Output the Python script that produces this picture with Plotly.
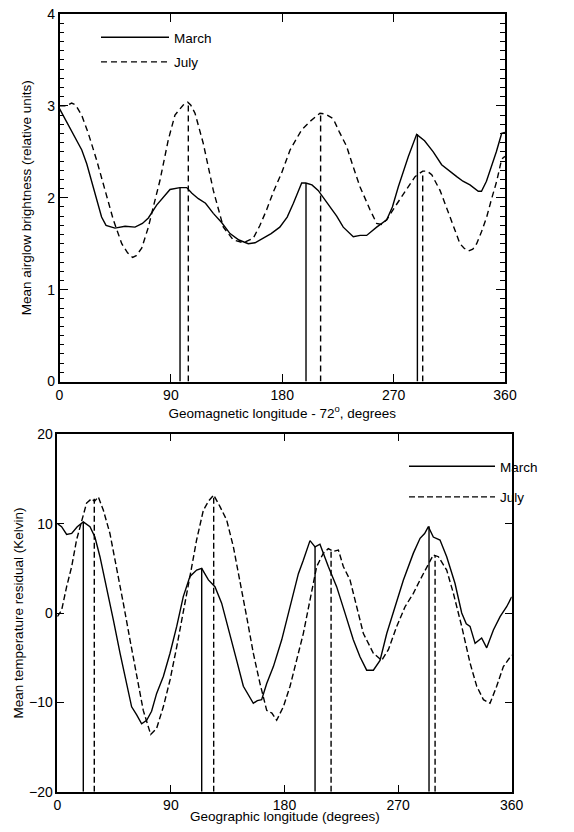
import plotly.graph_objects as go

# ---------------- Top panel data (airglow brightness) ----------------
top_march_lon = [0, 6, 12.5, 18, 22, 27.3, 34, 37.6, 44.8, 53, 61, 67, 71.8, 78.5, 84, 89.3, 97.3,
                 102.8, 107, 112.2, 118, 124.3, 131, 137.8, 145, 152.6, 158, 164.7, 171, 178, 184,
                 189, 195.7, 199, 204, 209, 214, 218.6, 224, 229.3, 237.4, 243, 248.2, 256.3, 264.4,
                 269, 273.8, 281.9, 288.6, 295, 302, 308.8, 315, 321, 326, 331.7, 338.4, 341, 345,
                 349.2, 353, 357.3, 360]
top_march_val = [2.97, 2.82, 2.66, 2.52, 2.37, 2.12, 1.79, 1.70, 1.67, 1.69, 1.68, 1.72, 1.78, 1.92,
                 2.01, 2.09, 2.11, 2.11, 2.05, 1.99, 1.94, 1.83, 1.73, 1.61, 1.54, 1.50, 1.51, 1.56,
                 1.61, 1.68, 1.79, 1.94, 2.16, 2.16, 2.14, 2.08, 1.99, 1.90, 1.80, 1.68, 1.575, 1.59,
                 1.59, 1.68, 1.76, 1.90, 2.12, 2.45, 2.69, 2.62, 2.50, 2.36, 2.29, 2.23, 2.18, 2.14,
                 2.07, 2.07, 2.18, 2.34, 2.50, 2.70, 2.71]

top_july_lon = [0, 5.5, 9.8, 13, 17.9, 23.3, 30, 36.8, 43.5, 50.3, 55, 59.1, 62, 66.4, 71.8, 75.8,
                81.2, 87.9, 93.3, 100, 103.6, 106, 109.5, 116.2, 124.3, 132.4, 140.5, 148.5, 156.6,
                162, 167.4, 173, 179.5, 186.3, 195.7, 202.4, 210.5, 215, 221.2, 226, 232, 237,
                242.8, 250.9, 256.3, 260, 264.4, 271, 279.2, 287.3, 293.5, 297, 300.8, 307.5, 315.6,
                323.6, 327, 330.4, 334, 337.1, 341, 345.2, 349, 353.3, 357.3, 360]
top_july_val = [3.00, 3.00, 3.03, 3.01, 2.90, 2.70, 2.41, 2.08, 1.76, 1.50, 1.40, 1.35, 1.37, 1.45,
                1.68, 1.90, 2.19, 2.63, 2.90, 3.01, 3.04, 3.01, 2.92, 2.59, 2.08, 1.68, 1.54, 1.51,
                1.56, 1.70, 1.87, 2.07, 2.27, 2.52, 2.74, 2.83, 2.92, 2.91, 2.86, 2.72, 2.56, 2.35,
                2.12, 1.87, 1.72, 1.71, 1.76, 1.90, 2.07, 2.23, 2.29, 2.29, 2.25, 2.08, 1.79, 1.50,
                1.45, 1.42, 1.44, 1.50, 1.63, 1.79, 1.98, 2.18, 2.42, 2.45]

# peak markers (vertical lines) top panel
top_march_peak_lon = [97.4, 199.2, 289.2]
top_march_peak_val = [2.11, 2.16, 2.69]
top_july_peak_lon = [104.1, 211.0, 293.5]
top_july_peak_val = [3.04, 2.92, 2.29]

# ---------------- Bottom panel data (temperature residual) ----------------
bot_march_lon = [0, 3.4, 7.4, 11.4, 15.8, 20.6, 25.9, 29.8, 33.8, 39.1, 44.4, 49.7, 54.9, 58.9,
                 62.9, 66.8, 70.8, 74.7, 78.7, 84, 89.3, 94.6, 99.8, 105.1, 110.4, 114.4, 119.7,
                 124.9, 130.2, 136.8, 142.1, 147.4, 151, 155.3, 158.5, 161.9, 165.9, 171.2, 177.8,
                 184.4, 191, 194.9, 200.2, 204.2, 208.1, 214.7, 221.3, 228, 234.5, 239.8, 245.1,
                 250.4, 255.7, 261, 268.9, 274.2, 282.1, 287.4, 291, 294, 297.9, 303.2, 308.5,
                 315.1, 320.4, 324, 327, 331, 336.2, 340.2, 345.5, 350.8, 356, 360]
bot_march_val = [10.0, 9.66, 8.8, 8.9, 9.66, 10.2, 9.66, 8.5, 6.3, 2.95, -0.78, -4.5, -7.9, -10.5,
                 -11.4, -12.4, -12.0, -11.0, -9.0, -7.1, -4.5, -1.5, 1.83, 4.1, 4.8, 5.0, 3.7,
                 2.95, 1.1, -2.3, -5.3, -8.2, -9.0, -10.1, -9.8, -9.7, -7.9, -6.0, -3.0, 0.7, 4.4,
                 5.9, 8.1, 7.4, 7.7, 5.2, 2.95, -0.04, -3.0, -4.9, -6.4, -6.4, -5.3, -2.3, 1.45,
                 3.7, 6.7, 8.36, 8.9, 9.66, 8.5, 8.17, 6.3, 3.3, 0.0, -1.2, -1.5, -3.4, -2.8,
                 -3.9, -1.9, -0.4, 0.7, 1.8]

bot_july_lon = [0, 3.4, 7.4, 11.4, 15.3, 19.3, 23.2, 27.2, 29.5, 32.5, 36.5, 41.7, 47, 52.3, 57.6,
                62.9, 68.1, 74, 78.7, 84, 89.3, 94.6, 99.8, 105.1, 110.4, 115.7, 119.7, 123.9,
                128.9, 134.2, 139.5, 144.7, 150, 155.3, 160.6, 165.9, 170, 173.8, 179.1, 184.4,
                189.6, 194.9, 200.2, 205.5, 210.8, 214.7, 218.7, 222.7, 226.6, 231.9, 237.2, 242.5,
                250.4, 257, 262.3, 268.9, 275.5, 282.1, 287.4, 292.7, 297.9, 301.9, 308.5, 313.8,
                320.4, 327, 332.3, 337.6, 342.8, 348.1, 353.4, 360]
bot_july_val = [-0.4, 0.3, 2.95, 5.2, 8.2, 10.2, 12.3, 12.8, 12.5, 13.0, 11.5, 8.9, 5.2, 1.1, -3.0,
                -7.1, -10.9, -13.6, -12.9, -10.5, -7.5, -3.8, -0.04, 4.1, 8.2, 11.5, 12.5, 13.2,
                11.9, 10.4, 7.4, 3.7, -0.4, -4.5, -7.9, -10.9, -11.2, -12.0, -10.5, -8.2, -5.3,
                -2.3, 1.45, 5.2, 6.7, 7.2, 6.9, 7.05, 5.2, 3.7, 0.7, -2.3, -4.5, -5.3, -4.1,
                -1.5, 0.7, 2.2, 3.7, 5.2, 6.5, 6.3, 4.8, 2.2, -1.5, -5.6, -8.2, -9.7, -10.1,
                -8.2, -6.0, -4.7]

bot_march_peak_lon = [20.6, 114.4, 204.2, 294.5]
bot_march_peak_val = [10.2, 5.0, 7.5, 9.7]
bot_july_peak_lon = [29.3, 123.9, 216.9, 299.3]
bot_july_peak_val = [12.8, 13.2, 7.1, 6.5]

top_ybase = 0
bot_ybase = -20

FONT = "Liberation Sans, Arial, Helvetica, sans-serif"
LW = 1.4
DASH_TOP = "6px,4px"
DASH_BOT = "6px,3px"

fig = go.Figure()

# top curves
fig.add_trace(go.Scatter(x=top_march_lon, y=top_march_val, mode="lines", name="March",
                         line=dict(color="black", width=LW), xaxis="x", yaxis="y",
                         legend="legend", legendgroup="m1"))
fig.add_trace(go.Scatter(x=top_july_lon, y=top_july_val, mode="lines", name="July",
                         line=dict(color="black", width=LW, dash=DASH_TOP), xaxis="x", yaxis="y",
                         legend="legend", legendgroup="j1"))
for lon, val in zip(top_march_peak_lon, top_march_peak_val):
    fig.add_trace(go.Scatter(x=[lon, lon], y=[top_ybase, val], mode="lines", showlegend=False,
                             line=dict(color="black", width=LW), xaxis="x", yaxis="y"))
for lon, val in zip(top_july_peak_lon, top_july_peak_val):
    fig.add_trace(go.Scatter(x=[lon, lon], y=[top_ybase, val], mode="lines", showlegend=False,
                             line=dict(color="black", width=LW, dash=DASH_TOP), xaxis="x", yaxis="y"))

# bottom curves
fig.add_trace(go.Scatter(x=bot_march_lon, y=bot_march_val, mode="lines", name="March",
                         line=dict(color="black", width=LW), xaxis="x2", yaxis="y2",
                         legend="legend2", legendgroup="m2"))
fig.add_trace(go.Scatter(x=bot_july_lon, y=bot_july_val, mode="lines", name="July",
                         line=dict(color="black", width=LW, dash=DASH_BOT), xaxis="x2", yaxis="y2",
                         legend="legend2", legendgroup="j2"))
for lon, val in zip(bot_march_peak_lon, bot_march_peak_val):
    fig.add_trace(go.Scatter(x=[lon, lon], y=[bot_ybase, val], mode="lines", showlegend=False,
                             line=dict(color="black", width=LW), xaxis="x2", yaxis="y2"))
for lon, val in zip(bot_july_peak_lon, bot_july_peak_val):
    fig.add_trace(go.Scatter(x=[lon, lon], y=[bot_ybase, val], mode="lines", showlegend=False,
                             line=dict(color="black", width=LW, dash=DASH_BOT), xaxis="x2", yaxis="y2"))

# page body has an 8px margin: figure is sized to fit inside the window
OFF = 8
W, H = 574 - 2 * OFF, 832 - 2 * OFF


def fx(sx):
    return (sx - OFF) / W


def fy(sy):
    return 1 - (sy - OFF) / H


axis_common = dict(showgrid=False, zeroline=False, showline=True, linecolor="black", linewidth=1.5,
                   mirror="allticks", ticks="inside", tickcolor="black", tickwidth=1.3,
                   automargin=False, tickmode="linear", ticklabeloverflow="allow",
                   tickfont=dict(size=14, color="black", family=FONT))

fig.update_layout(
    width=W, height=H, margin=dict(l=0, r=0, t=0, b=0),
    paper_bgcolor="white", plot_bgcolor="white",
    font=dict(family=FONT, color="black"),
    xaxis=dict(domain=[fx(59.5), fx(505)], anchor="y", range=[0, 360], tick0=0, dtick=90,
               ticklen=8,
               title=dict(text="Geomagnetic longitude - 72<sup>o</sup>, degrees", font=dict(size=13.5),
                          standoff=2),
               **axis_common),
    yaxis=dict(domain=[fy(381.5), fy(14)], anchor="x", range=[0, 4], tick0=0, dtick=1,
               ticklen=9,
               minor=dict(tick0=0, dtick=0.1, ticks="inside", ticklen=5, tickcolor="black",
                          tickwidth=1.1, showgrid=False),
               title=dict(text="Mean airglow brightness (relative units)", font=dict(size=13.5),
                          standoff=12),
               **axis_common),
    xaxis2=dict(domain=[fx(57.3), fx(511.7)], anchor="y2", range=[0, 360], tick0=0, dtick=90,
                ticklen=7,
                **axis_common),
    yaxis2=dict(domain=[fy(791.7), fy(434.3)], anchor="x2", range=[-20, 20],
                tick0=0, dtick=10, ticklen=7,
                title=dict(text="Mean temperature residual (Kelvin)", font=dict(size=13.5), standoff=2),
                **axis_common),
    legend=dict(x=88 / W, y=1 - 14 / H, xanchor="left", yanchor="top", bgcolor="rgba(0,0,0,0)",
                font=dict(size=13.5, color="black", family=FONT), itemwidth=68,
                traceorder="grouped", tracegroupgap=4),
    legend2=dict(x=396 / W, y=1 - 443 / H, xanchor="left", yanchor="top", bgcolor="rgba(0,0,0,0)",
                 font=dict(size=13.5, color="black", family=FONT), itemwidth=86,
                 traceorder="grouped", tracegroupgap=10),
    showlegend=True,
    annotations=[dict(text="Geographic longitude (degrees)", xref="x2 domain", x=0.5,
                      yref="paper", y=0, xanchor="center", yanchor="bottom", yshift=-2,
                      showarrow=False, font=dict(size=13.5, color="black", family=FONT))],
)

fig.write_html("out.html")
